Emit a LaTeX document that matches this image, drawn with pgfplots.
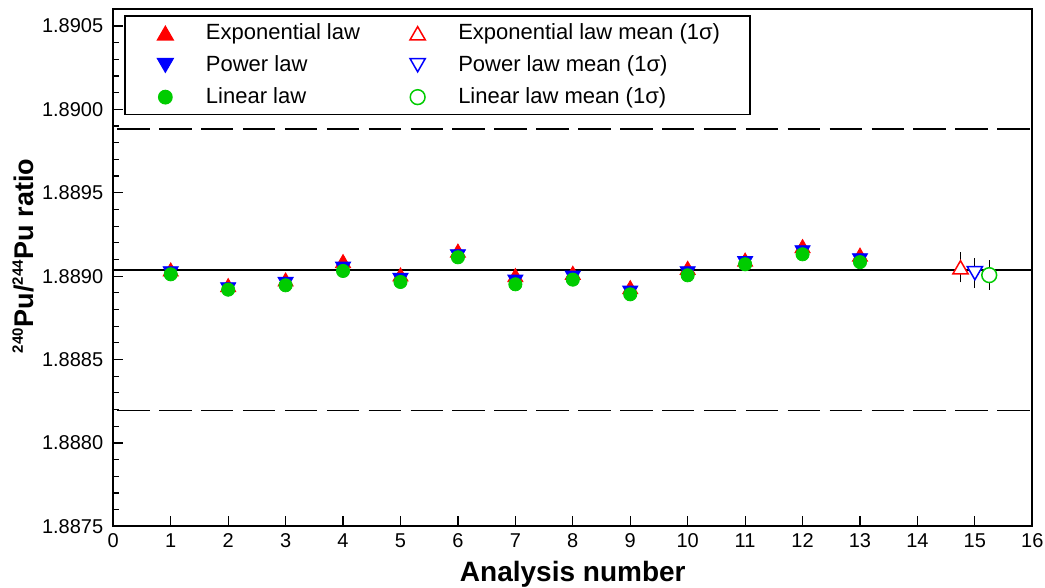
\documentclass[border=0pt]{standalone}
\usepackage{pgfplots}
\pgfplotsset{compat=1.18}
\usepackage{pgfplotstable}
\usepackage{fontspec}
\setmainfont{Liberation Sans}
\definecolor{mygreen}{RGB}{0,204,0}
\pgfplotstableread{
x y
1 1.889040
2 1.888946
3 1.888980
4 1.889090
5 1.889010
6 1.889153
7 1.889006
8 1.889020
9 1.888934
10 1.889050
11 1.889099
12 1.889180
13 1.889129
}\expdata
\pgfplotstableread{
x y
1 1.889017
2 1.888921
3 1.888953
4 1.889045
5 1.888977
6 1.889119
7 1.888967
8 1.888991
9 1.888901
10 1.889017
11 1.889078
12 1.889143
13 1.889095
}\powdata
\pgfplotstableread{
x y
1 1.889011
2 1.888919
3 1.888945
4 1.889031
5 1.888965
6 1.889113
7 1.888951
8 1.888979
9 1.888891
10 1.889005
11 1.889071
12 1.889131
13 1.889084
}\lindata
\begin{document}
\begin{tikzpicture}
\begin{axis}[
  name=ax,
  scale only axis,
  width=459.5pt, height=258.5pt,
  xmin=0, xmax=16, ymin=1.8875, ymax=1.8906,
  xtick={0,1,...,16},
  ytick={1.8875,1.888,1.8885,1.889,1.8895,1.89,1.8905},
  minor y tick num=4,
  scaled y ticks=false,
  yticklabel style={xshift=-1.5pt, /pgf/number format/fixed, /pgf/number format/fixed zerofill, /pgf/number format/precision=4},
  /pgf/number format/assume math mode=true,
  tick align=inside,
  xtick pos=bottom, ytick pos=left,
  major tick length=5pt, minor tick length=3pt,
  tick style={black, line width=0.6pt},
  axis line style={line width=0.9pt},
  ticklabel style={font=\fontsize{10}{12}\selectfont},
  xlabel={\bfseries Analysis number},
  ylabel={\bfseries \textsuperscript{\fontsize{7.5}{8}\selectfont 240}Pu/\textsuperscript{\fontsize{7.5}{8}\selectfont 244}Pu ratio},
  xlabel style={font=\fontsize{14}{16}\selectfont, at={(axis description cs:0.5,-0.0928)}, anchor=center},
  ylabel style={font=\fontsize{13.5}{16}\selectfont, at={(axis description cs:-0.098,0.523)}, anchor=center},
  legend columns=2,
  legend cell align=left,
  legend image code/.code={\draw[#1] plot coordinates {(16.9pt,0pt)}; \path (0pt,0pt) (34.8pt,0pt);},
  legend style={at={(0.0116,0.989)}, anchor=north west, draw=black, line width=0.8pt,
    font=\fontsize{11}{13}\selectfont, row sep=2.5pt,
    /tikz/every even column/.append style={column sep=9.5pt}},
]
\addplot[forget plot, black, line width=0.65pt, dash pattern=on 16.2pt off 4.75pt, dash phase=18.95pt] coordinates {(0,1.889883) (16,1.889883)};
\addplot[forget plot, black, line width=0.65pt, dash pattern=on 16.2pt off 4.75pt, dash phase=18.95pt] coordinates {(0,1.888195) (16,1.888195)};
\addplot[forget plot, black, line width=0.65pt] coordinates {(0,1.889037) (16,1.889037)};

\addplot[only marks, mark=triangle*, mark size=4.4pt, color=red, fill=red, mark options={yshift=-1.1pt}] table[x=x,y=y] {\expdata};
\addlegendentry{Exponential law}
\addplot[only marks, mark=triangle*, mark size=4.4pt, color=red, mark options={yshift=-1.1pt, fill=white, line width=0.75pt},
  error bars/.cd, y dir=both, y explicit, error bar style={black, line width=0.6pt},
  error mark options={black, mark size=1.4pt, line width=0.6pt}]
  coordinates {(14.75,1.889053) +- (0,0.0000737)};
\addlegendentry{Exponential law mean (1σ)\hspace*{10pt}}
\addplot[only marks, mark=triangle*, mark size=4.4pt, color=blue, fill=blue, mark options={yshift=1.1pt, rotate=180}] table[x=x,y=y] {\powdata};
\addlegendentry{Power law}
\addplot[only marks, mark=triangle*, mark size=4.4pt, color=blue, mark options={yshift=1.1pt, rotate=180, fill=white, line width=0.75pt},
  error bars/.cd, y dir=both, y explicit, error bar style={black, line width=0.6pt},
  error mark options={black, mark size=1.4pt, line width=0.6pt}]
  coordinates {(15,1.889018) +- (0,0.0000725)};
\addlegendentry{Power law mean (1σ)}
\addplot[only marks, mark=*, mark size=3.3pt, color=mygreen, fill=mygreen] table[x=x,y=y] {\lindata};
\addlegendentry{Linear law}
\addplot[only marks, mark=*, mark size=3.7pt, color=mygreen, mark options={fill=white, line width=0.75pt},
  error bars/.cd, y dir=both, y explicit, error bar style={black, line width=0.6pt},
  error mark options={black, mark size=1.4pt, line width=0.6pt}]
  coordinates {(15.25,1.889006) +- (0,0.0000713)};
\addlegendentry{Linear law mean (1σ)}
\end{axis}
\pgfresetboundingbox
\path[use as bounding box] ([xshift=-56.65pt,yshift=-30.85pt]ax.south west) rectangle ([xshift=6.35pt,yshift=4.65pt]ax.north east);
\end{tikzpicture}
\end{document}
